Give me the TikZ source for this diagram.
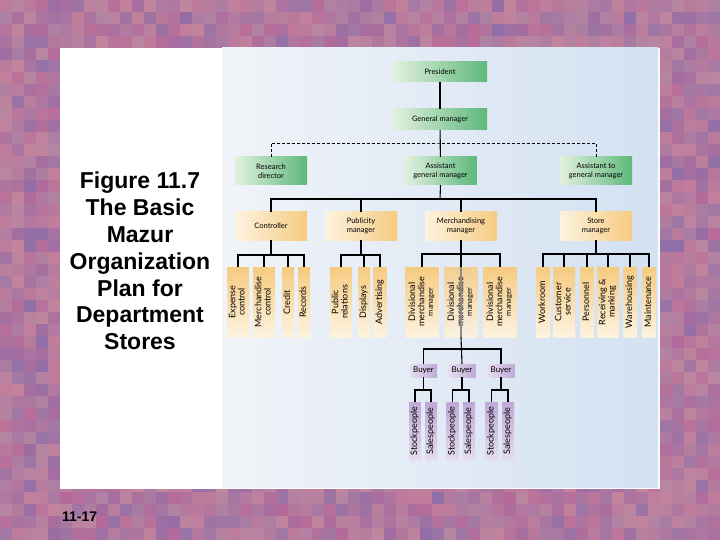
\documentclass[tikz,border=0pt]{standalone}
\usepackage{fontspec}
\usepackage{graphicx}
\setmainfont{Liberation Sans}
\newfontfamily\boxfont{Lato}
\usetikzlibrary{calc}
\definecolor{mosA}{HTML}{B86A98}
\definecolor{mosB}{HTML}{8E6EA8}
\definecolor{mosC}{HTML}{C8909E}
\definecolor{bgL}{HTML}{F1F4F9}
\definecolor{bgR}{HTML}{D3E1F2}
\definecolor{grL}{HTML}{E2F1DF}
\definecolor{grR}{HTML}{5EB87B}
\definecolor{orL}{HTML}{FDF3E0}
\definecolor{orR}{HTML}{F6CB80}
\definecolor{puL}{HTML}{E6DDF0}
\definecolor{puR}{HTML}{BEA9D5}
\newcommand{\vtxt}[1]{\rotatebox{90}{\def\arraystretch{0.85}\begin{tabular}{@{}c@{}}#1\end{tabular}}}
\begin{document}
\begin{tikzpicture}[x=1pt,y=-1pt,
  hb/.style={inner sep=0pt, align=center, font=\boxfont\fontsize{7.5}{9}\selectfont, minimum width=72pt, minimum height=28pt},
  greenbox/.style={hb, left color=grL, right color=grR},
  orangebox/.style={hb, left color=orL, right color=orR},
  vob/.style={inner sep=0pt, minimum height=70pt, top color=orR, bottom color=orL, font=\boxfont\fontsize{9}{10}\selectfont},
  pob/.style={inner sep=0pt, minimum height=58pt, minimum width=12pt, top color=puR, bottom color=puL, font=\boxfont\fontsize{9}{10}\selectfont},
  buyerbox/.style={inner sep=0pt, minimum height=13pt, minimum width=27pt, left color=puL, right color=puR, font=\boxfont\fontsize{8}{9}\selectfont},
  conn/.style={draw=black, line width=1.1pt},
  dconn/.style={draw=black, line width=0.9pt, dash pattern=on 3pt off 2pt}]
\useasboundingbox (0,0) rectangle (720,540);
% mosaic background
\pgfmathsetseed{12}
\foreach \i in {0,...,59}{
  \foreach \j in {0,...,44}{
    \pgfmathtruncatemacro\ra{random(0,100)}
    \pgfmathtruncatemacro\rb{random(30,100)}
    \fill[mosA!\ra!mosB!\rb!mosC] (\i*12,\j*12) rectangle ++(12.6,12.6);
  }
}
% panels
\fill[white] (60,48) rectangle (660,489);
\shade[left color=bgL, right color=bgR] (222,48) rectangle (658,487);
% title texts
\node[font=\bfseries\fontsize{23}{26.8}\selectfont, align=center, inner sep=0pt] (title) at (140,261)
  {Figure 11.7\\The Basic\\Mazur\\Organization\\Plan for\\Department\\Stores};
\node[font=\bfseries\fontsize{14}{16}\selectfont, anchor=base west, inner sep=0pt] (pg) at (62,521) {11-17};
% top levels
\node[greenbox, minimum width=94pt, minimum height=20pt] (pres) at (440,72) {President};
\node[greenbox, minimum width=94pt, minimum height=21pt] (gm) at (440,119.5) {General manager};
\node[greenbox] (rd) at (271,171) {Research\\director};
\node[greenbox] (agm) at (440.5,171) {Assistant\\general manager};
\node[greenbox] (atgm) at (596,171) {Assistant to\\general manager};
% managers
\node[orangebox] (ctrl) at (271,226) {Controller};
\node[orangebox] (pub) at (361,226) {Publicity\\manager};
\node[orangebox] (merch) at (461,226) {Merchandising\\manager};
\node[orangebox] (store) at (596,226) {Store\\manager};
% controller children
\node[vob, minimum width=22pt] (ec) at (238,302) {\vtxt{Expense\\control}};
\node[vob, minimum width=22pt] (mc) at (264,302) {\vtxt{Merchandise\\control}};
\node[vob, minimum width=12pt] (cr) at (288,302) {\vtxt{Credit}};
\node[vob, minimum width=12pt] (rec) at (304,302) {\vtxt{Records}};
% publicity children
\node[vob, minimum width=22pt] (pr) at (341,302) {\vtxt{Public\\relations}};
\node[vob, minimum width=12pt] (dis) at (364,302) {\vtxt{Displays}};
\node[vob, minimum width=13pt] (adv) at (380,302) {\vtxt{Advertising}};
% merchandising children
\node[vob, minimum width=33pt] (dm1) at (422,302) {\vtxt{Divisional\\merchandise\\{\fontsize{7.5}{8}\selectfont manager}}};
\node[vob, minimum width=33pt, fill opacity=0.85, text opacity=1] (dm2) at (461,302) {\vtxt{Divisional\\merchandise\\{\fontsize{7.5}{8}\selectfont manager}}};
\node[vob, minimum width=33pt] (dm3) at (500,302) {\vtxt{Divisional\\merchandise\\{\fontsize{7.5}{8}\selectfont manager}}};
% store children
\node[vob, minimum width=13pt] (wr) at (543,302) {\vtxt{Workroom}};
\node[vob, minimum width=22pt] (cs) at (564,302) {\vtxt{Customer\\service}};
\node[vob, minimum width=13pt] (per) at (587,302) {\vtxt{Personnel}};
\node[vob, minimum width=22pt] (rm) at (608,302) {\vtxt{Receiving \&\\marking}};
\node[vob, minimum width=13pt] (wh) at (630,302) {\vtxt{Warehousing}};
\node[vob, minimum width=13pt] (mt) at (649,302) {\vtxt{Maintenance}};
% buyers
\node[buyerbox] (by1) at (423.5,370.5) {Buyer};
\node[buyerbox] (by2) at (462,370.5) {Buyer};
\node[buyerbox] (by3) at (501,370.5) {Buyer};
\node[pob] (st1) at (415,431) {\vtxt{Stockpeople}};
\node[pob] (sa1) at (431,431) {\vtxt{Salespeople}};
\node[pob] (st2) at (452.5,431) {\vtxt{Stockpeople}};
\node[pob] (sa2) at (469,431) {\vtxt{Salespeople}};
\node[pob] (st3) at (491.5,431) {\vtxt{Stockpeople}};
\node[pob] (sa3) at (508,431) {\vtxt{Salespeople}};
% bus coordinates
\coordinate (dsh) at (440,143);
\coordinate (b1) at (440,199);
\coordinate (b2) at (271,255);
\coordinate (b3) at (361,255);
\coordinate (b4) at (461,254);
\coordinate (b5) at (596,254);
\coordinate (b6) at (461,349);
% connectors
\draw[conn] (pres) -- (gm);
\draw[conn] (gm) -- (agm);
\draw[dconn] (rd.north) |- (dsh) -| (atgm.north);
\draw[conn] (agm.south) -- (b1);
\draw[conn] (ctrl.north) |- (b1) -| (store.north);
\draw[conn] (pub.north) -- (pub.north |- b1);
\draw[conn] (merch.north) -- (merch.north |- b1);
% controller
\draw[conn] (ctrl.south) -- (b2);
\draw[conn] (ec.north) |- (b2) -| (rec.north);
\draw[conn] (mc.north) -- (mc.north |- b2);
\draw[conn] (cr.north) -- (cr.north |- b2);
% publicity
\draw[conn] (pub.south) -- (b3);
\draw[conn] (pr.north) |- (b3) -| (adv.north);
\draw[conn] (dis.north) -- (dis.north |- b3);
% merchandising
\draw[conn] (merch.south) -- (dm2.north);
\draw[conn] (dm1.north) |- (b4) -| (dm3.north);
\draw[conn, black!45] (dm2.north) -- (dm2.south);
\draw[conn] (dm2.south) -- (by2.north);
\draw[conn] (by1.north) |- (b6) -| (by3.north);
% store
\draw[conn] (store.south) -- (b5);
\draw[conn] (wr.north) |- (b5) -| (mt.north);
\draw[conn] (cs.north) -- (cs.north |- b5);
\draw[conn] (per.north) -- (per.north |- b5);
\draw[conn] (rm.north) -- (rm.north |- b5);
\draw[conn] (wh.north) -- (wh.north |- b5);
% buyer children
\draw[conn] (by1.south) -- (by1.south |- 0,390);
\draw[conn] (st1.north) |- (by1.south |- 0,390) -| (sa1.north);
\draw[conn] (by2.south) -- (by2.south |- 0,390);
\draw[conn] (st2.north) |- (by2.south |- 0,390) -| (sa2.north);
\draw[conn] (by3.south) -- (by3.south |- 0,390);
\draw[conn] (st3.north) |- (by3.south |- 0,390) -| (sa3.north);
\end{tikzpicture}
\end{document}
